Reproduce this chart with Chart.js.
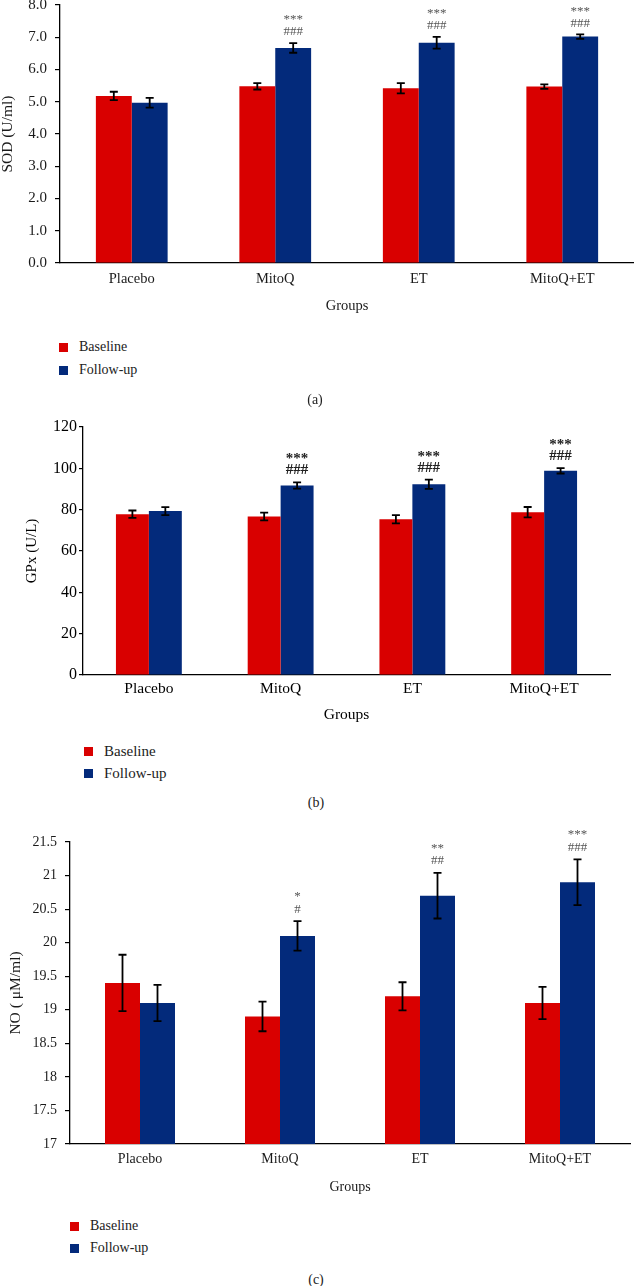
<!DOCTYPE html>
<html>
<head>
<meta charset="utf-8">
<script src="https://cdn.jsdelivr.net/npm/chart.js@4"></script>
<style>
  body { margin: 0; background: #fff; }
  #page { position: relative; width: 634px; height: 1286px; overflow: hidden; background: #fff; font-family: 'Liberation Serif', serif; }
  canvas { position: absolute; left: 0; }
  .leg { position: absolute; font-size: 14px; color: #222; white-space: nowrap; line-height: 16px; }
  .sw { position: absolute; width: 9px; height: 9px; }
  .cap { position: absolute; width: 40px; text-align: center; font-size: 14px; color: #222; line-height: 16px; }
</style>
</head>
<body>
<div id="page">
  <canvas id="chartA" width="634" height="330" style="top:-15px"></canvas>
  <canvas id="chartB" width="634" height="319" style="top:405px"></canvas>
  <canvas id="chartC" width="634" height="374" style="top:822px"></canvas>
</div>
<script>
var groups = ["Placebo", "MitoQ", "ET", "MitoQ+ET"];
var seriesNames = ["Baseline", "Follow-up"];

// (a) SOD
var sodBaseline = [5.18, 5.48, 5.42, 5.47];
var sodBaselineErr = [0.13, 0.10, 0.16, 0.07];
var sodFollow = [4.97, 6.67, 6.83, 7.02];
var sodFollowErr = [0.15, 0.15, 0.18, 0.07];
var sodStars = ["", "***", "***", "***"];
var sodHashes = ["", "###", "###", "###"];
var sodTicks = ["0.0", "1.0", "2.0", "3.0", "4.0", "5.0", "6.0", "7.0", "8.0"];

// (b) GPx
var gpxBaseline = [77.8, 76.7, 75.4, 78.8];
var gpxBaselineErr = [1.8, 1.9, 2.0, 2.5];
var gpxFollow = [79.3, 91.7, 92.3, 98.8];
var gpxFollowErr = [1.9, 1.5, 2.2, 1.3];
var gpxStars = ["", "***", "***", "***"];
var gpxHashes = ["", "###", "###", "###"];
var gpxTicks = ["0", "20", "40", "60", "80", "100", "120"];

// (c) NO
var noBaseline = [19.4, 18.9, 19.2, 19.1];
var noBaselineErr = [0.42, 0.22, 0.21, 0.24];
var noFollow = [19.1, 20.1, 20.7, 20.9];
var noFollowErr = [0.27, 0.22, 0.34, 0.34];
var noStars = ["", "*", "**", "***"];
var noHashes = ["", "#", "##", "###"];
var noTicks = ["17", "17.5", "18", "18.5", "19", "19.5", "20", "20.5", "21", "21.5"];

var RED = "#d90000";
var BLUE = "#032a7b";
var SERIF = "'Liberation Serif', serif";

// draws error bars + significance marks from the data arrays
var errorBarPlugin = {
  id: "errorBars",
  afterDatasetsDraw: function (chart) {
    var ctx = chart.ctx;
    var y = chart.scales.y;
    var extra = chart.config.options.extra;
    ctx.save();
    chart.data.datasets.forEach(function (ds, di) {
      var meta = chart.getDatasetMeta(di);
      meta.data.forEach(function (bar, i) {
        var top = y.getPixelForValue(ds.data[i] + ds.err[i]);
        var bot = y.getPixelForValue(ds.data[i] - ds.err[i]);
        ctx.strokeStyle = "#000";
        ctx.lineWidth = 1.8;
        ctx.beginPath();
        ctx.moveTo(bar.x, top); ctx.lineTo(bar.x, bot);
        ctx.moveTo(bar.x - 4, top); ctx.lineTo(bar.x + 4, top);
        ctx.moveTo(bar.x - 4, bot); ctx.lineTo(bar.x + 4, bot);
        ctx.stroke();
        if (di === 1 && extra.hashes[i]) {
          ctx.fillStyle = extra.markColor;
          ctx.font = extra.markFont;
          ctx.textAlign = "center";
          ctx.textBaseline = "middle";
          var hy = top - extra.offset;
          ctx.fillText(extra.hashes[i], bar.x, hy);
          ctx.fillText(extra.stars[i], bar.x, hy - extra.gap + extra.starShift);
        }
      });
    });
    ctx.restore();
  }
};

function makePanel(id, p) {
  var yFont = { family: SERIF, size: p.yFontSize };
  var xFont = { family: SERIF, size: p.xFontSize };
  var titleFont = { family: SERIF, size: p.titleSize, lineHeight: 1 };
  return new Chart(document.getElementById(id), {
    type: "bar",
    data: {
      labels: groups,
      datasets: [
        { label: seriesNames[0], data: p.base, err: p.baseErr, backgroundColor: RED },
        { label: seriesNames[1], data: p.follow, err: p.followErr, backgroundColor: BLUE }
      ]
    },
    options: {
      responsive: false,
      animation: false,
      devicePixelRatio: 1,
      categoryPercentage: 0.5,
      barPercentage: 1.0,
      layout: { padding: { top: p.padTop, left: 0, right: p.padRight, bottom: 0 } },
      plugins: { legend: { display: false }, tooltip: { enabled: false } },
      extra: {
        stars: p.stars, hashes: p.hashes, markFont: p.markFont, markColor: p.markColor,
        offset: p.markOffset, gap: p.markGap, starShift: p.starShift
      },
      scales: {
        x: {
          grid: { display: false, drawTicks: false, tickLength: 0 },
          border: { color: "#000", width: 1.3 },
          ticks: { font: xFont, color: p.textColor, padding: p.xPad },
          title: { display: true, text: "Groups", font: xFont, color: p.textColor, padding: { top: 0, bottom: 0 } },
          afterFit: function (s) { s.height = p.xHeight; }
        },
        y: {
          min: p.min, max: p.max,
          ticks: {
            stepSize: p.step, font: yFont, color: p.textColor, padding: p.yPad,
            callback: function (v, i) { return p.tickLabels[i]; }
          },
          grid: { drawOnChartArea: false, drawTicks: true, tickLength: p.tickLen, color: "#000", lineWidth: 1.2 },
          border: { color: "#000", width: 1.3 },
          title: { display: true, text: p.yTitle, font: titleFont, color: p.textColor, padding: { top: p.yTitlePad, bottom: 0 } },
          afterFit: function (s) { s.width = p.yWidth; }
        }
      }
    },
    plugins: [errorBarPlugin]
  });
}

makePanel("chartA", {
  base: sodBaseline, baseErr: sodBaselineErr, follow: sodFollow, followErr: sodFollowErr,
  stars: sodStars, hashes: sodHashes, tickLabels: sodTicks,
  min: 0, max: 8, step: 1, yTitle: "SOD (U/ml)",
  yFontSize: 15, xFontSize: 14.5, titleSize: 15.5, textColor: "#1a1a1a",
  padTop: 20, padRight: 0, yWidth: 60, yPad: 8, tickLen: 5, yTitlePad: 0,
  xPad: 7.5, xHeight: 52,
  markFont: "13px " + SERIF, markColor: "#555", markOffset: 11, markGap: 15, starShift: 3
});

makePanel("chartB", {
  base: gpxBaseline, baseErr: gpxBaselineErr, follow: gpxFollow, followErr: gpxFollowErr,
  stars: gpxStars, hashes: gpxHashes, tickLabels: gpxTicks,
  min: 0, max: 120, step: 20, yTitle: "GPx (U/L)",
  yFontSize: 16, xFontSize: 15.5, titleSize: 15, textColor: "#000",
  padTop: 22, padRight: 24, yWidth: 83, yPad: 2, tickLen: 4, yTitlePad: 24.5,
  xPad: 5, xHeight: 49,
  markFont: "bold 15px " + SERIF, markColor: "#222", markOffset: 12, markGap: 14, starShift: 3
});

makePanel("chartC", {
  base: noBaseline, baseErr: noBaselineErr, follow: noFollow, followErr: noFollowErr,
  stars: noStars, hashes: noHashes, tickLabels: noTicks,
  min: 17, max: 21.5, step: 0.5, yTitle: "NO ( \u03bcM/ml)",
  yFontSize: 14, xFontSize: 14, titleSize: 15.5, textColor: "#1a1a1a",
  padTop: 20, padRight: 4, yWidth: 70, yPad: 8, tickLen: 5, yTitlePad: 8,
  xPad: 7, xHeight: 52,
  markFont: "13px " + SERIF, markColor: "#555", markOffset: 12, markGap: 15.5, starShift: 3
});

// legends and panel captions
var page = document.getElementById("page");
function addLegend(sqLeft, textLeft, ys, size) {
  [RED, BLUE].forEach(function (c, i) {
    var sw = document.createElement("div");
    sw.className = "sw";
    sw.style.left = sqLeft + "px";
    sw.style.top = (ys[i] - 4.5) + "px";
    sw.style.background = c;
    page.appendChild(sw);
    var t = document.createElement("div");
    t.className = "leg";
    t.style.left = textLeft + "px";
    t.style.top = (ys[i] - 8) + "px";
    t.style.fontSize = size + "px";
    t.textContent = seriesNames[i];
    page.appendChild(t);
  });
}
function addCaption(text, cx, cy, size) {
  var d = document.createElement("div");
  d.className = "cap";
  d.style.left = (cx - 20) + "px";
  d.style.top = (cy - 8) + "px";
  d.style.fontSize = size + "px";
  d.textContent = text;
  page.appendChild(d);
}
addLegend(59, 79, [347, 370], 14);
addLegend(84, 104, [751, 773], 15);
addLegend(70, 90, [1226, 1248], 14);
addCaption("(a)", 315, 400, 14);
addCaption("(b)", 316, 803, 14);
addCaption("(c)", 316, 1280, 14);
</script>
</body>
</html>
